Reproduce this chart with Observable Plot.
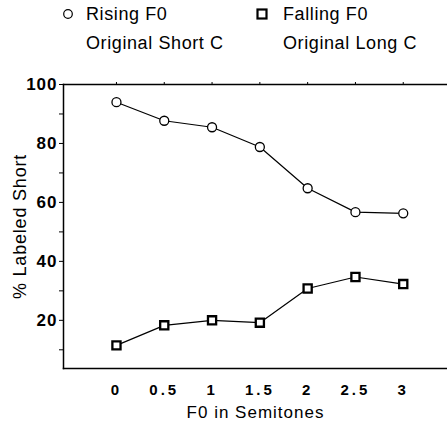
<!DOCTYPE html>
<html><head>
<meta charset="utf-8">
<script src="https://cdn.jsdelivr.net/npm/d3@7"></script>
<script src="https://cdn.jsdelivr.net/npm/@observablehq/plot@0.6"></script>
<style>
body{margin:0;background:#fff;font-family:"Liberation Sans",Arial,sans-serif;}
#wrap{position:relative;width:447px;height:429px;overflow:hidden;}
#legend{position:relative;height:70px;}
.lg{position:absolute;font-size:18px;letter-spacing:0.6px;color:#000;white-space:nowrap;line-height:1;}
.sym{position:absolute;}
</style></head><body>
<div id="wrap"><div id="legend"></div><div id="chart"></div></div>
<script>
const semitones = [0, 0.5, 1, 1.5, 2, 2.5, 3];
const rising = [94, 87.7, 85.5, 78.8, 64.8, 56.7, 56.3];
const falling = [11.5, 18.3, 20, 19.2, 30.8, 34.7, 32.3];
const seriesNames = ["Rising F0", "Falling F0"];
const seriesSub = ["Original Short C", "Original Long C"];
const seriesSymbols = ["circle", "square"];
const yTicks = [20, 40, 60, 80, 100];
const yMinor = [10, 30, 50, 70, 90];
const xTickLabels = ["0", "0.5", "1", "1.5", "2", "2.5", "3"];

const data = [];
semitones.forEach((s, i) => {
  data.push({x: s, y: rising[i], series: seriesNames[0]});
  data.push({x: s, y: falling[i], series: seriesNames[1]});
});

// Legend (HTML above the SVG)
const legend = document.getElementById("legend");
const legendPos = [{sx: 62, tx: 86}, {sx: 256, tx: 283}];
seriesNames.forEach((name, i) => {
  const p = legendPos[i];
  const sym = document.createElementNS("http://www.w3.org/2000/svg", "svg");
  sym.setAttribute("width", 12); sym.setAttribute("height", 12);
  sym.setAttribute("class", "sym");
  sym.style.left = p.sx + "px"; sym.style.top = "8px";
  sym.innerHTML = seriesSymbols[i] === "circle"
    ? '<circle cx="6" cy="6" r="4.3" fill="white" stroke="black" stroke-width="1.2"/>'
    : '<rect x="1.5" y="1.5" width="9" height="9" fill="white" stroke="black" stroke-width="2.2"/>';
  legend.appendChild(sym);
  const t1 = document.createElement("div");
  t1.className = "lg"; t1.textContent = name;
  t1.style.left = p.tx + "px"; t1.style.top = "5px";
  legend.appendChild(t1);
  const t2 = document.createElement("div");
  t2.className = "lg"; t2.textContent = seriesSub[i];
  t2.style.left = p.tx + "px"; t2.style.top = "34px";
  legend.appendChild(t2);
});

const chart = Plot.plot({
  width: 447,
  height: 359,
  marginLeft: 63,
  marginRight: 0,
  marginTop: 14,
  marginBottom: 61,
  style: {fontFamily: '"Liberation Sans", Arial, sans-serif', background: "white", color: "black"},
  x: {domain: [-0.554, 3.463]},
  y: {domain: [3.66, 100]},
  marks: [
    Plot.frame({anchor: "left", strokeWidth: 1.5}),
    Plot.frame({anchor: "top", strokeWidth: 1.5}),
    Plot.frame({anchor: "bottom", strokeWidth: 1.5}),
    Plot.axisY(yTicks, {tickSize: 4, tickPadding: 2, fontSize: 17, fontWeight: "bold", label: null}),
    Plot.axisY(yMinor, {tickSize: 4, tickFormat: () => "", label: null}),
    Plot.axisY([], {label: "% Labeled Short", labelAnchor: "center", labelArrow: "none", labelOffset: 50, fontSize: 18}),
    Plot.axisX(semitones, {anchor: "top", tickSize: 3, tickFormat: () => "", label: null}),
    Plot.axisX(semitones, {tickSize: 0, tickPadding: 16, fontSize: 15, fontWeight: "bold",
      tickFormat: (d) => xTickLabels[semitones.indexOf(d)], label: null}),
    Plot.axisX([], {label: "F0 in Semitones", labelAnchor: "center", labelArrow: "none", labelOffset: 49, fontSize: 17}),
    Plot.line(data, {x: "x", y: "y", z: "series", stroke: "black", strokeWidth: 1.2}),
    Plot.dot(data.filter(d => d.series === seriesNames[0]), {x: "x", y: "y", symbol: "circle", r: 4.5, fill: "white", stroke: "black", strokeWidth: 1.3}),
    Plot.dot(data.filter(d => d.series === seriesNames[1]), {x: "x", y: "y", symbol: "square", r: 4.6, fill: "white", stroke: "black", strokeWidth: 2.3})
  ]
});
// letter spacing for the wide lettering of the reference
const svg = d3.select(chart);
svg.selectAll('g[aria-label="y-axis tick label"] text').style("letter-spacing", "1px");
svg.selectAll('g[aria-label="x-axis tick label"] text').style("letter-spacing", "3px");
svg.selectAll('g[aria-label="y-axis label"] text').style("letter-spacing", "0.8px");
svg.selectAll('g[aria-label="x-axis label"] text').style("letter-spacing", "1px");
document.getElementById("chart").appendChild(chart);
</script>
</body></html>
